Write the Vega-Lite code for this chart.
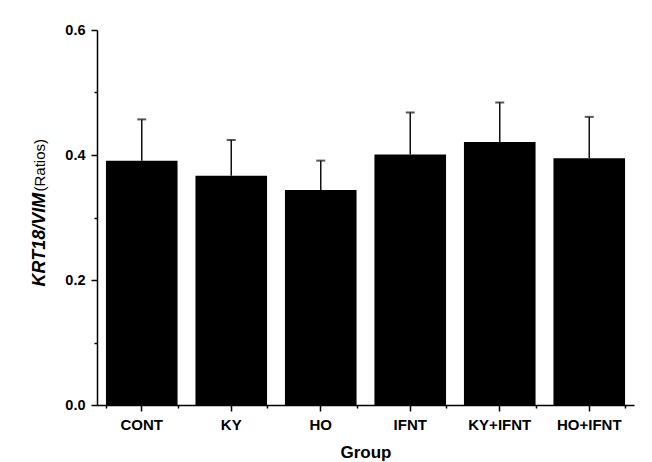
{
  "$schema": "https://vega.github.io/schema/vega-lite/v6.json",
  "width": 537,
  "height": 375,
  "autosize": "none",
  "padding": {"left": 97, "top": 30, "right": 18, "bottom": 57},
  "background": "white",
  "config": {
    "view": {"stroke": null},
    "font": "Liberation Sans",
    "axis": {"grid": false, "domainColor": "black", "tickColor": "black", "domainWidth": 1.5, "tickWidth": 1.5, "labelColor": "black", "titleColor": "black"}
  },
  "data": {
    "values": [
      {"group": "CONT", "ratio": 0.391, "upper": 0.457},
      {"group": "KY", "ratio": 0.367, "upper": 0.424},
      {"group": "HO", "ratio": 0.344, "upper": 0.391},
      {"group": "IFNT", "ratio": 0.401, "upper": 0.468},
      {"group": "KY+IFNT", "ratio": 0.421, "upper": 0.484},
      {"group": "HO+IFNT", "ratio": 0.395, "upper": 0.461}
    ]
  },
  "layer": [
    {
      "mark": {"type": "bar", "color": "black"},
      "encoding": {
        "x": {
          "field": "group", "type": "nominal", "sort": null,
          "scale": {"paddingInner": 0.2, "paddingOuter": 0.1},
          "axis": {
            "orient": "bottom", "labelAngle": 0, "labelFontSize": 15, "labelFontWeight": "bold",
            "labelBaseline": "alphabetic", "labelPadding": 18, "tickSize": 6,
            "title": "Group", "titleFontSize": 17, "titleFontWeight": "bold",
            "titleBaseline": "alphabetic", "titleY": 52
          }
        },
        "y": {
          "field": "ratio", "type": "quantitative",
          "scale": {"domain": [0, 0.6], "nice": false},
          "axis": {
            "orient": "left", "values": [0, 0.2, 0.4, 0.6], "format": ".1f",
            "labelFontSize": 14.5, "labelFontWeight": "bold", "labelPadding": 6, "tickSize": 6,
            "title": "KRT18/VIM", "titleFontSize": 18, "titleFontWeight": "bold", "titleFontStyle": "italic",
            "titleAngle": -90, "titleAlign": "left", "titleBaseline": "middle", "titleX": -58, "titleY": 256
          }
        }
      }
    },
    {
      "mark": {"type": "rule", "color": "#111", "strokeWidth": 1.5},
      "encoding": {
        "x": {
          "field": "group", "type": "nominal", "sort": null,
          "axis": {"orient": "bottom", "tickBand": "extent", "tickSize": 3, "labels": false, "domain": false, "title": null}
        },
        "y": {
          "field": "ratio", "type": "quantitative",
          "axis": {
            "orient": "left", "values": [0.1, 0.3, 0.5], "tickSize": 3, "labels": false, "domain": false,
            "title": "(Ratios)", "titleFontSize": 15, "titleFontWeight": "normal",
            "titleAngle": -90, "titleAlign": "left", "titleBaseline": "middle", "titleX": -58, "titleY": 161
          }
        },
        "y2": {"field": "upper"}
      }
    },
    {
      "mark": {"type": "tick", "color": "#111", "size": 9, "thickness": 2},
      "encoding": {
        "x": {"field": "group", "type": "nominal", "sort": null, "axis": null},
        "y": {"field": "upper", "type": "quantitative", "axis": null}
      }
    }
  ],
  "resolve": {"axis": {"x": "independent", "y": "independent"}}
}
